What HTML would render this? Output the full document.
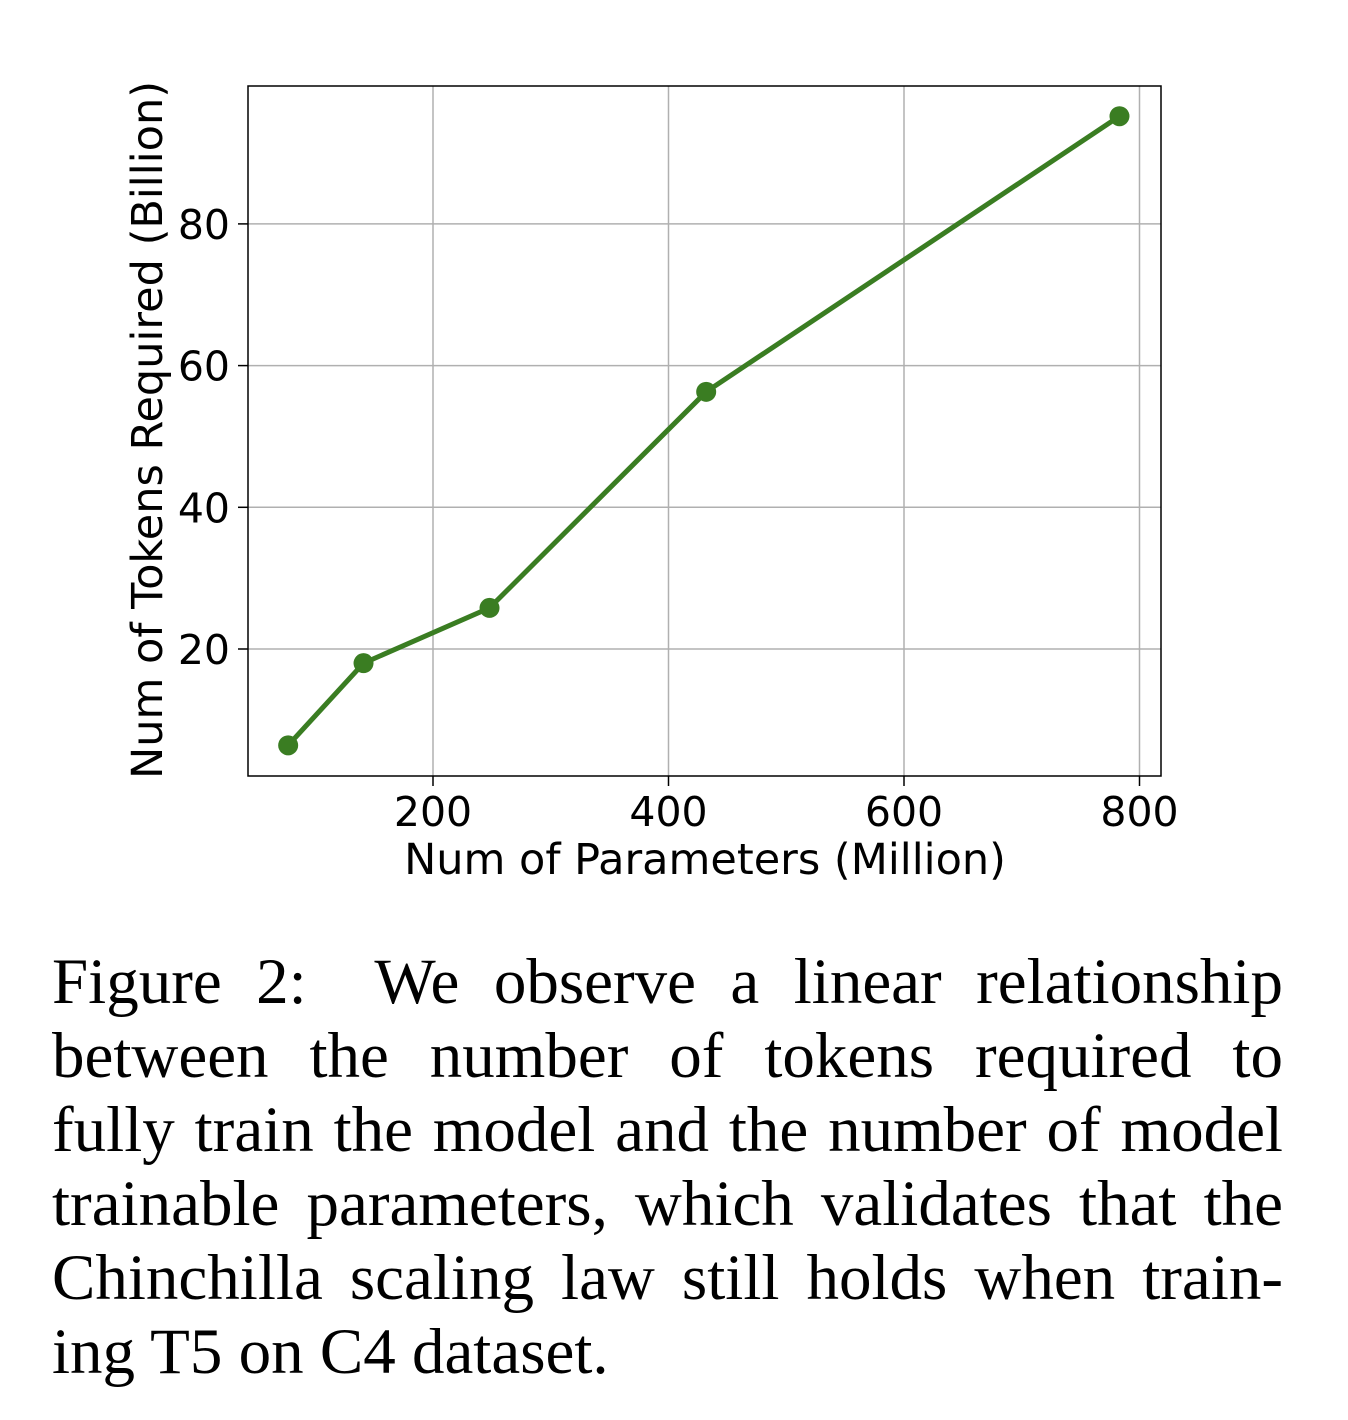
<!DOCTYPE html>
<html><head><meta charset="utf-8"><style>
body{margin:0;background:#fff;width:1348px;height:1420px;overflow:hidden;position:relative}
svg{position:absolute;left:0;top:0}
.cap{position:absolute;left:52px;width:1231px;font-family:"Liberation Serif",serif;font-size:65px;line-height:74px;text-align:justify;text-align-last:justify;white-space:nowrap}
.cap div{height:74px}
</style></head><body>
<svg width="1348" height="900" font-family="DejaVu Sans, sans-serif">
<g id="grid"></g>
<rect x="248" y="86" width="913" height="690" fill="none" stroke="#000" stroke-width="1.5"/>
<g id="ticks"></g>
<g id="series"></g>
<text x="705" y="874" font-size="43" text-anchor="middle">Num of Parameters (Million)</text>
<text transform="translate(162,430) rotate(-90)" font-size="43" text-anchor="middle">Num of Tokens Required (Billion)</text>
</svg>
<div class="cap" style="top:945px">
<div>Figure 2:&nbsp; We observe a linear relationship</div>
<div>between the number of tokens required to</div>
<div>fully train the model and the number of model</div>
<div>trainable parameters, which validates that the</div>
<div>Chinchilla scaling law still holds when train-</div>
<div style="text-align-last:left">ing T5 on C4 dataset.</div>
</div>
<script>
const params=[77,141,248,432,783];
const tokens=[6.4,18.0,25.8,56.3,95.2];
const xTicks=[200,400,600,800];
const yTicks=[20,40,60,80];
const NS="http://www.w3.org/2000/svg";
const X=v=>197.5+v*1.1775, Y=v=>790.7-v*7.085;
function mk(t,a,p){const e=document.createElementNS(NS,t);for(const k in a)e.setAttribute(k,a[k]);p.appendChild(e);return e;}
const g=document.getElementById('grid'),tk=document.getElementById('ticks'),s=document.getElementById('series');
xTicks.forEach(v=>{
 const l=mk('line',{x1:X(v),x2:X(v),y1:86,y2:776,stroke:'#b0b0b0','stroke-width':1.5},g);
 
 
 mk('line',{x1:X(v),x2:X(v),y1:776,y2:786,stroke:'#000','stroke-width':1.5},tk);
 const t=mk('text',{x:X(v),y:826,'font-size':41,'text-anchor':'middle'},tk);t.textContent=v;
 
 
});
yTicks.forEach(v=>{
 const l=mk('line',{x1:248,x2:1161,y1:Y(v),y2:Y(v),stroke:'#b0b0b0','stroke-width':1.5},g);
 
 
 mk('line',{x1:238,x2:248,y1:Y(v),y2:Y(v),stroke:'#000','stroke-width':1.5},tk);
 const t=mk('text',{x:230,y:Y(v)+15,'font-size':41,'text-anchor':'end'},tk);t.textContent=v;
 
 
});
const pl=mk('polyline',{points:params.map((p,i)=>X(p)+','+Y(tokens[i])).join(' '),fill:'none',stroke:'#3a7d22','stroke-width':5},s);


params.forEach((p,i)=>{
 const c=mk('circle',{cx:X(p),cy:Y(tokens[i]),r:10,fill:'#3a7d22'},s);
 
 
});
</script>
</body></html>
